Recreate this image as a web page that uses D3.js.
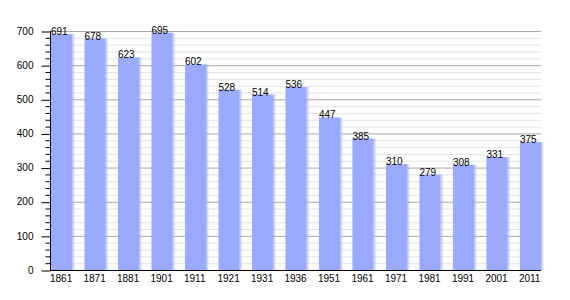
<!DOCTYPE html>
<html><head><meta charset="utf-8">
<script src="https://cdn.jsdelivr.net/npm/d3@7"></script>
<style>body{margin:0;background:#fff}svg{display:block}text{font-family:"Liberation Sans",Arial,sans-serif}</style>
</head><body>
<svg id="c" width="570" height="300"></svg>
<script>
const years = ["1861","1871","1881","1901","1911","1921","1931","1936","1951","1961","1971","1981","1991","2001","2011"];
const population = [691,678,623,695,602,528,514,536,447,385,310,279,308,331,375];
const majorTicks = [0,100,200,300,400,500,600,700];

const svg = d3.select("#c");
const x0 = 50, x1 = 541, yTop = 31, yBot = 270;
const y = d3.scaleLinear().domain([0,700]).range([yBot,yTop]);
const x = d3.scaleBand().domain(years).range([51,x1]).paddingInner(0.37).paddingOuter(0).align(0);

const minor = d3.range(0,701,20).filter(v => v % 100 !== 0);
const defs = svg.append("defs");
const g = defs.append("linearGradient").attr("id","sh").attr("x1","0").attr("x2","1");
g.append("stop").attr("offset","0").attr("stop-color","#9aabff").attr("stop-opacity",0.8);
g.append("stop").attr("offset","1").attr("stop-color","#9aabff").attr("stop-opacity",0);

svg.append("g").selectAll("line").data(minor).join("line")
  .attr("x1",x0).attr("x2",x1).attr("y1",d=>y(d)+0.5).attr("y2",d=>y(d)+0.5)
  .attr("stroke","#e4e4e4").attr("stroke-width",1);
svg.append("g").selectAll("line").data(majorTicks.filter(d=>d>0)).join("line")
  .attr("x1",x0).attr("x2",x1).attr("y1",d=>y(d)+0.5).attr("y2",d=>y(d)+0.5)
  .attr("stroke","#a8a8a8").attr("stroke-width",1);

const data = years.map((yr,i)=>({yr, v: population[i]}));
svg.append("g").selectAll("rect.sh").data(data).join("rect")
  .attr("x",d=>x(d.yr)+x.bandwidth()).attr("width",3)
  .attr("y",d=>y(d.v)).attr("height",d=>yBot-y(d.v)).attr("fill","url(#sh)");
svg.append("g").selectAll("rect.b").data(data).join("rect")
  .attr("x",d=>x(d.yr)).attr("width",x.bandwidth())
  .attr("y",d=>y(d.v)).attr("height",d=>yBot-y(d.v)).attr("fill","#9aabff");

svg.append("g").selectAll("text").data(data).join("text")
  .attr("x",d=>x(d.yr)).attr("y",d=>y(d.v)+1)
  .attr("font-size",10).attr("fill","#000").text(d=>d.v);

// axes
const ya = svg.append("g").attr("transform",`translate(${x0+0.5},0)`);
ya.call(d3.axisLeft(y).tickValues(majorTicks).tickSize(9).tickFormat(d3.format("d")).tickPadding(8));
ya.append("g").selectAll("line").data(minor).join("line")
  .attr("x1",-5).attr("x2",0).attr("y1",d=>y(d)+0.5).attr("y2",d=>y(d)+0.5).attr("stroke","#000");
ya.select(".domain").attr("d",`M0,${yTop}V${yBot+0.5}`);
ya.selectAll(".tick line").attr("transform","translate(0,0.5)");
ya.selectAll("text").attr("font-size",10).attr("font-family","Liberation Sans, Arial, sans-serif");

svg.append("line").attr("x1",x0).attr("x2",x1).attr("y1",yBot+0.5).attr("y2",yBot+0.5).attr("stroke","#000");

svg.append("g").selectAll("text.xl").data(years).join("text")
  .attr("x",d=>x(d)-1).attr("y",282).attr("font-size",10).text(d=>d);
</script>
</body></html>
